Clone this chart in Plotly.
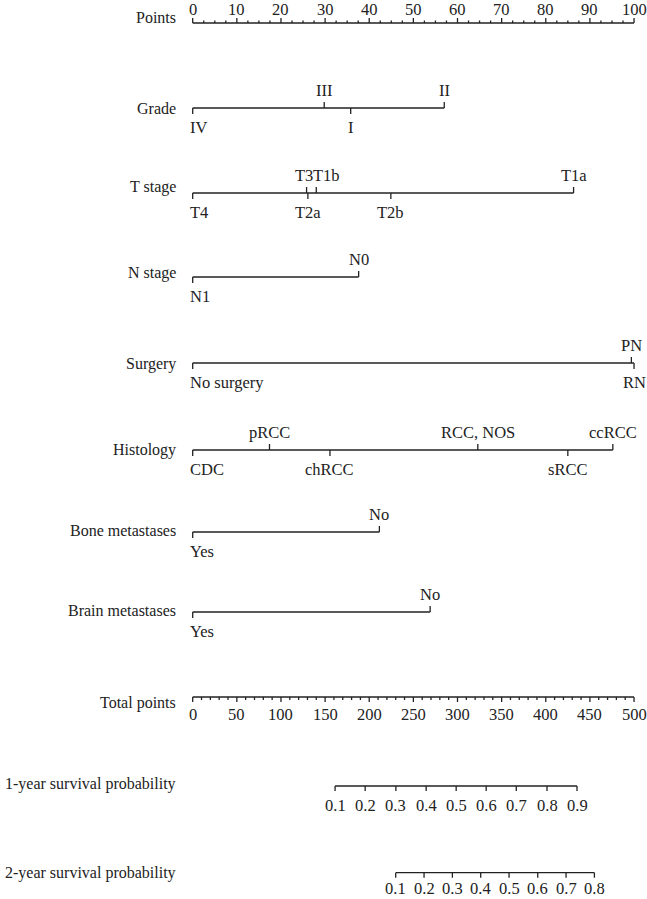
import plotly.graph_objects as go

# ---------------- data ----------------
points_ticks = list(range(0, 101, 10))

grade_levels = ["IV", "III", "I", "II"]
grade_pts = [0, 29.8, 35.8, 57.0]

tstage_levels = ["T4", "T3", "T2a", "T1b", "T2b", "T1a"]
tstage_pts = [0, 25.8, 26.1, 28.0, 44.9, 86.3]

nstage_levels = ["N1", "N0"]
nstage_pts = [0, 37.6]

surgery_levels = ["No surgery", "PN", "RN"]
surgery_pts = [0, 99.4, 100]

histology_levels = ["CDC", "pRCC", "chRCC", "RCC, NOS", "sRCC", "ccRCC"]
histology_pts = [0, 17.4, 31.1, 64.6, 85.0, 95.2]

bone_levels = ["Yes", "No"]
bone_pts = [0, 42.3]

brain_levels = ["Yes", "No"]
brain_pts = [0, 53.8]

total_ticks = list(range(0, 501, 50))

surv1_probs = ["0.1", "0.2", "0.3", "0.4", "0.5", "0.6", "0.7", "0.8", "0.9"]
surv1_total = [161.3, 195.4, 230.2, 264.5, 298.5, 332.5, 366.6, 401.4, 435.4]

surv2_probs = ["0.1", "0.2", "0.3", "0.4", "0.5", "0.6", "0.7", "0.8"]
surv2_total = [230.0, 262.1, 294.2, 326.3, 358.4, 390.9, 423.0, 455.1]

# ---------------- layout / style ----------------
W, H = 647, 899
X0_PX, PX_PER_PT = 192.7, 4.4133
XR = [-X0_PX / PX_PER_PT, (W - X0_PX) / PX_PER_PT]
FONT = "Liberation Serif"
FS = 16.5
FS_ROW = 16
COL = "#222222"
TICK = 6

# small label nudges so that crowded labels do not overlap (as in the reference)
LABEL_ADJ = {"T3": ("right", 8), "T1b": ("left", -5)}

fig = go.Figure()
annotations = []


def add_text(x, y, text, xanchor="center", xshift=0):
    annotations.append(dict(x=x, y=y, xref="x", yref="y", text=text, showarrow=False,
                            xanchor=xanchor, yanchor="middle", xshift=xshift,
                            font=dict(family=FONT, size=FS, color=COL)))


def row_label(y, text):
    annotations.append(dict(x=178 / W, y=y, xref="paper", yref="y", text=text, showarrow=False,
                            xanchor="right", yanchor="middle",
                            font=dict(family=FONT, size=FS_ROW, color=COL)))


def segs_trace(xs, ys):
    fig.add_trace(go.Scatter(x=xs, y=ys, mode="lines", hoverinfo="skip",
                             line=dict(color=COL, width=1.3), showlegend=False))


def variable_row(levels, pts, y_line, y_lab, label):
    row_label(y_lab, label)
    order = sorted(range(len(pts)), key=lambda i: pts[i])
    xs = [min(pts), max(pts), None]
    ys = [y_line, y_line, None]
    for k, i in enumerate(order):
        above = (k % 2 == 1)
        dy = -TICK if above else TICK
        xs += [pts[i], pts[i], None]
        ys += [y_line, y_line + dy, None]
        ty = y_line - 18 if above else y_line + 19
        if levels[i] in LABEL_ADJ:
            anc, sh = LABEL_ADJ[levels[i]]
            add_text(pts[i], ty, levels[i], xanchor=anc, xshift=sh)
        elif pts[i] == min(pts):
            add_text(pts[i], ty, levels[i], xanchor="left", xshift=-5)
        else:
            add_text(pts[i], ty, levels[i])
    segs_trace(xs, ys)


# Points axis (ticks upward, labels on top)
row_label(17, "Points")
y_pts = 23
xs = [0, 100, None]
ys = [y_pts, y_pts, None]
minor = [i * 2.5 for i in range(41)]
for m in minor:
    major = abs(m / 10 - round(m / 10)) < 1e-9
    xs += [m, m, None]
    ys += [y_pts, y_pts - (5 if major else 2.5), None]
segs_trace(xs, ys)
for t in points_ticks:
    add_text(t, 9, str(t))

variable_row(grade_levels, grade_pts, 108, 108, "Grade")
variable_row(tstage_levels, tstage_pts, 193, 187, "T stage")
variable_row(nstage_levels, nstage_pts, 277, 273, "N stage")
variable_row(surgery_levels, surgery_pts, 363, 364, "Surgery")
variable_row(histology_levels, histology_pts, 450, 450, "Histology")
variable_row(bone_levels, bone_pts, 532, 530, "Bone metastases")
variable_row(brain_levels, brain_pts, 612, 610, "Brain metastases")

# Total points axis (ticks downward, labels below) - total/5 maps onto points scale
row_label(703, "Total points")
y_tot = 697
xs = [0, 100, None]
ys = [y_tot, y_tot, None]
for v in range(0, 501, 10):
    major = v % 50 == 0
    xs += [v / 5, v / 5, None]
    ys += [y_tot, y_tot + (5 if major else 3), None]
segs_trace(xs, ys)
for t in total_ticks:
    add_text(t / 5, 714, str(t))


def prob_axis(probs, totals, y_line, y_lab_tick, y_lab, label):
    row_label(y_lab, label)
    p = [t / 5 for t in totals]
    xs = [min(p), max(p), None]
    ys = [y_line, y_line, None]
    for v in p:
        xs += [v, v, None]
        ys += [y_line, y_line + 5, None]
    segs_trace(xs, ys)
    for v, s in zip(p, probs):
        add_text(v, y_lab_tick, s)


prob_axis(surv1_probs, surv1_total, 786, 805, 784, "1-year survival probability")
prob_axis(surv2_probs, surv2_total, 872.7, 888, 873, "2-year survival probability")

fig.update_layout(
    width=W, height=H,
    margin=dict(l=0, r=0, t=0, b=0),
    paper_bgcolor="white", plot_bgcolor="white",
    xaxis=dict(range=XR, visible=False, fixedrange=True),
    yaxis=dict(range=[H, 0], visible=False, fixedrange=True),
    annotations=annotations,
    showlegend=False,
)

fig.write_html(
    "out.html",
    config={"displayModeBar": False},
    post_script="document.body.style.margin='0';document.body.style.overflow='hidden';",
)
